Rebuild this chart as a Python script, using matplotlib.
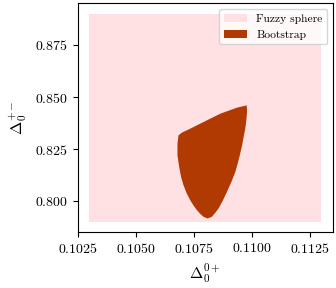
import matplotlib
matplotlib.use("Agg")
import matplotlib.pyplot as plt

plt.rcParams['font.family'] = 'serif'
plt.rcParams['font.serif'] = ['cmr10']
plt.rcParams['mathtext.fontset'] = 'cm'
plt.rcParams['axes.formatter.use_mathtext'] = True
plt.rcParams['font.size'] = 10

# fuzzy sphere box (x range, y range)
fuzzy_x = [0.1030, 0.1130]
fuzzy_y = [0.790, 0.890]

# bootstrap region outline
boot_x = [0.109780, 0.109365, 0.108644, 0.107923, 0.107349, 0.106991, 0.106844,
          0.106801, 0.106801, 0.106844, 0.106887, 0.106960, 0.107060, 0.107198,
          0.107349, 0.107500, 0.107638, 0.107781, 0.107923, 0.108096, 0.108286,
          0.108428, 0.108571, 0.108752, 0.108934, 0.109119, 0.109292, 0.109400,
          0.109486, 0.109586, 0.109650, 0.109724, 0.109767, 0.109797, 0.109797]
boot_y = [0.8460, 0.8449, 0.8420, 0.8380, 0.8348, 0.8329, 0.8316,
          0.8276, 0.8220, 0.8187, 0.8157, 0.8115, 0.8077, 0.8038,
          0.8005, 0.7978, 0.7957, 0.7939, 0.7925, 0.7917, 0.7925,
          0.7944, 0.7965, 0.8002, 0.8045, 0.8091, 0.8140, 0.8182,
          0.8220, 0.8268, 0.8308, 0.8349, 0.8388, 0.8426, 0.8444]

fig, ax = plt.subplots(figsize=(3.36, 2.88), dpi=100)
fig.subplots_adjust(left=0.231, right=0.991, top=0.9885, bottom=0.193)

rx = [fuzzy_x[0], fuzzy_x[1], fuzzy_x[1], fuzzy_x[0]]
ry = [fuzzy_y[0], fuzzy_y[0], fuzzy_y[1], fuzzy_y[1]]
ax.fill(rx, ry, color='#ffe1e4', lw=0, label='Fuzzy sphere')
ax.fill(boot_x, boot_y, color='#b03a02', lw=0, label='Bootstrap')

ax.set_xticks([0.1025, 0.1050, 0.1075, 0.1100, 0.1125])
ax.set_yticks([0.800, 0.825, 0.850, 0.875])
ax.set_xlabel(r'$\Delta_0^{0+}$', fontsize=11.5)
ax.set_ylabel(r'$\Delta_0^{+-}$', fontsize=11.5)
ax.legend(loc='upper right', fontsize=8.3)

fig.savefig('out.png', dpi=100)
